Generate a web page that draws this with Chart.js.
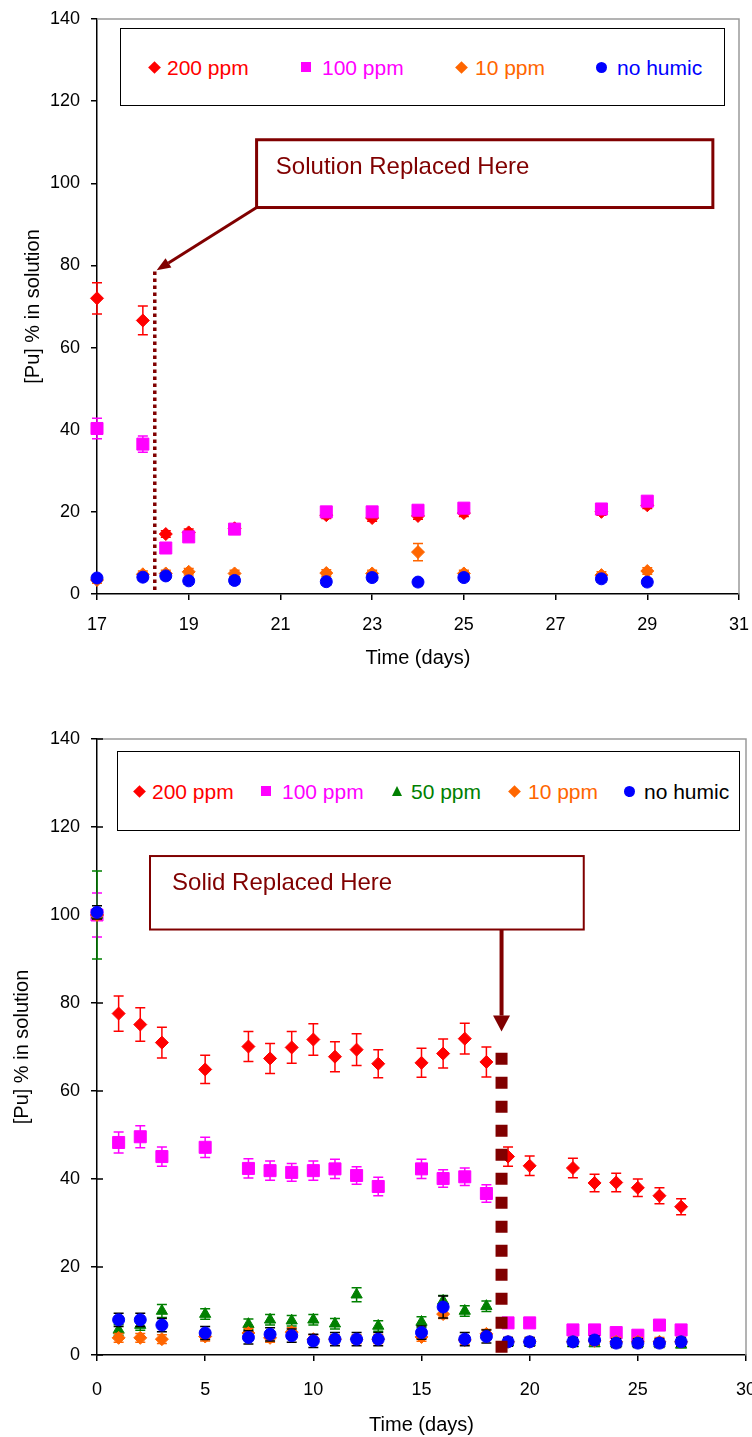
<!DOCTYPE html>
<html>
<head>
<meta charset="utf-8">
<script src="https://cdn.jsdelivr.net/npm/chart.js@4.4.0/dist/chart.umd.min.js"></script>
<style>
  body { margin: 0; background: #fff; width: 752px; height: 1437px; position: relative; overflow: hidden;
         font-family: "Liberation Sans", Arial, sans-serif; }
  .panel { position: absolute; left: 0; width: 752px; overflow: hidden; }
  #top-panel { top: 0; height: 674px; }
  #bottom-panel { top: 720px; height: 717px; }
  .legend { position: absolute; border: 1.5px solid #000; box-sizing: border-box; background: #fff; font-size: 21px; }
  .legend .mk, .legend .txt { position: absolute; top: 50%; }
  .legend .txt { transform: translateY(-50%); white-space: nowrap; line-height: 1; }
  .mk.diamond { width: 9px; height: 9px; margin: -4.5px 0 0 -4.5px; transform: rotate(45deg); }
  .mk.square { width: 10px; height: 10px; margin: -5px 0 0 -5px; }
  .mk.circle { width: 11px; height: 11px; margin: -5.5px 0 0 -5.5px; border-radius: 50%; }
  .mk.triangle { width: 0; height: 0; margin: -5px 0 0 -5.5px; border-left: 5.5px solid transparent;
                 border-right: 5.5px solid transparent; border-bottom: 10px solid #008000; }
</style>
</head>
<body>
<div class="panel" id="top-panel"><canvas id="top-chart" width="752" height="674"></canvas></div>
<div class="panel" id="bottom-panel"><canvas id="bottom-chart" width="764" height="717"></canvas></div>

<div class="legend" style="left:120px; top:28px; width:605px; height:78px;">
  <span class="mk diamond" style="left:33px; background:#ff0000;"></span><span class="txt" style="left:46px; color:#ff0000;">200 ppm</span>
  <span class="mk square" style="left:185px; background:#ff00ff;"></span><span class="txt" style="left:201px; color:#ff00ff;">100 ppm</span>
  <span class="mk diamond" style="left:340px; background:#ff6600;"></span><span class="txt" style="left:354px; color:#ff6600;">10 ppm</span>
  <span class="mk circle" style="left:480px; background:#0000ff;"></span><span class="txt" style="left:496px; color:#0000ff;">no humic</span>
</div>

<div class="legend" style="left:117px; top:751px; width:623px; height:80px;">
  <span class="mk diamond" style="left:21px; background:#ff0000;"></span><span class="txt" style="left:34px; color:#ff0000;">200 ppm</span>
  <span class="mk square" style="left:148px; background:#ff00ff;"></span><span class="txt" style="left:164px; color:#ff00ff;">100 ppm</span>
  <span class="mk triangle" style="left:279px;"></span><span class="txt" style="left:293px; color:#008000;">50 ppm</span>
  <span class="mk diamond" style="left:396px; background:#ff6600;"></span><span class="txt" style="left:410px; color:#ff6600;">10 ppm</span>
  <span class="mk circle" style="left:511px; background:#0000ff;"></span><span class="txt" style="left:526px; color:#000;">no humic</span>
</div>

<script>
// Верхний график: замена раствора
const daysTop = [17, 18, 18.5, 19, 20, 22, 23, 24, 25, 28, 29];
const top200 = [72, 66.6, 14.6, 15, 16, 19.2, 18.5, 19, 19.7, 20, 21.6];
const top200Err = [3.8, 3.5, 0.8, 0.8, 0.8, 0.8, 0.8, 0.8, 0.8, 0.8, 0.8];
const top100 = [40.3, 36.5, 11.2, 13.9, 15.8, 20, 20, 20.4, 20.9, 20.7, 22.6];
const top100Err = [2.5, 2, 0.8, 0.8, 0.8, 0.8, 0.8, 0.8, 0.8, 0.8, 0.8];
const top10 = [3.4, 4.8, 5, 5.4, 5, 5.1, 5, 10.2, 5, 4.6, 5.6];
const top10Err = [0.8, 0.8, 0.8, 0.8, 0.8, 0.8, 0.8, 2.1, 0.8, 0.8, 0.8];
const topNone = [3.9, 4.1, 4.4, 3.2, 3.3, 3.0, 4.0, 2.9, 4.0, 3.7, 2.9];
const topNoneErr = [0.8, 0.8, 0.8, 0.8, 0.8, 0.8, 0.8, 0.8, 0.8, 0.8, 0.8];

// Нижний график: замена твёрдой фазы
const daysBottom = [0, 1, 2, 3, 5, 7, 8, 9, 10, 11, 12, 13, 15, 16, 17, 18, 19, 20, 22, 23, 24, 25, 26, 27];
const bot200 = [100, 77.6, 75.1, 71.0, 64.9, 70.1, 67.4, 69.9, 71.7, 67.8, 69.4, 66.2, 66.4, 68.5, 71.9, 66.6, 45.1, 43.0, 42.5, 39.1, 39.2, 38.0, 36.2, 33.7];
const bot200Err = [0, 4.0, 3.8, 3.5, 3.2, 3.4, 3.4, 3.6, 3.6, 3.4, 3.6, 3.2, 3.3, 3.3, 3.5, 3.4, 2.2, 2.2, 2.2, 2.0, 2.1, 2.0, 1.8, 1.8];
const bot100 = [100, 48.3, 49.6, 45.1, 47.2, 42.4, 41.9, 41.5, 41.9, 42.3, 40.8, 38.3, 42.3, 40.1, 40.5, 36.7, 7.3, 7.3, 5.7, 5.7, 5.1, 4.5, 6.8, 5.7];
const bot100Err = [5, 2.4, 2.5, 2.2, 2.3, 2.2, 2.2, 2.0, 2.2, 2.2, 2.0, 2.1, 2.2, 2.0, 2.0, 2.0, 0.5, 0.5, 0.5, 0.5, 0.5, 0.5, 0.5, 0.5];
const bot50 = [100, 5.7, 6.8, 10.0, 9.3, 7.0, 8.0, 7.8, 8.0, 7.1, 13.7, 6.6, 7.5, 12.3, 10.0, 11.1, 2.8, 2.8, 2.6, 2.6, 2.6, 2.6, 2.6, 2.3];
const bot50Err = [10, 1.2, 1.2, 1.5, 1.2, 1.2, 1.2, 1.2, 1.2, 1.2, 1.6, 1.2, 1.2, 1.2, 1.2, 1.2, 0.5, 0.5, 0.5, 0.5, 0.5, 0.5, 0.5, 0.5];
const bot10 = [100, 3.9, 3.9, 3.6, 4.2, 5.0, 3.9, 5.2, 3.6, 3.6, 3.6, 3.6, 4.1, 9.3, 3.4, 4.8, 3.0, 3.0, 3.0, 3.2, 3.0, 3.0, 3.0, 3.0];
const bot10Err = [1, 1, 1, 1, 1, 1, 1, 1, 1, 1, 1, 1, 1, 1, 1, 1, 1, 1, 1, 1, 1, 1, 1, 1];
const botNone = [100.6, 8.0, 8.0, 6.8, 5.0, 4.0, 4.7, 4.4, 3.2, 3.6, 3.6, 3.6, 5.1, 10.9, 3.6, 4.2, 3.0, 3.0, 3.0, 3.4, 2.7, 2.7, 2.7, 3.0];
const botNoneErr = [1.5, 1.5, 1.5, 1.5, 1.5, 1.5, 1.5, 1.5, 1.5, 1.5, 1.5, 1.5, 1.5, 2.5, 1.5, 1.5, 1, 1, 1, 1, 1, 1, 1, 1];

const yTicks = [0, 20, 40, 60, 80, 100, 120, 140];
const MAROON = '#800000';

Chart.defaults.font.family = '"Liberation Sans", Arial, sans-serif';
Chart.defaults.color = '#000';

const toPoints = (xs, ys) => xs.map((x, i) => ({ x: x, y: ys[i] }));

const series = (label, xs, ys, errs, color, style, radius, order, errColor) => ({
  label: label,
  data: toPoints(xs, ys),
  errors: errs,
  errColor: errColor || color,
  backgroundColor: color,
  borderColor: color,
  borderWidth: 1,
  pointStyle: style,
  pointRadius: radius,
  showLine: false,
  clip: false,
  order: order
});

/**
 * Планки погрешностей, рисуются под маркерами своей серии
 */
const errorBars = {
  id: 'errorBars',
  beforeDatasetDraw(chart, args) {
    const ds = chart.data.datasets[args.index];
    if (!ds.errors) return;
    const yScale = chart.scales.y;
    const ctx = chart.ctx;
    ctx.save();
    ctx.strokeStyle = ds.errColor;
    ctx.lineWidth = 1.5;
    args.meta.data.forEach((pt, i) => {
      const e = ds.errors[i];
      if (!e) return;
      const v = ds.data[i].y;
      const yTop = yScale.getPixelForValue(v + e);
      const yBot = yScale.getPixelForValue(v - e);
      ctx.beginPath();
      ctx.moveTo(pt.x, yTop); ctx.lineTo(pt.x, yBot);
      ctx.moveTo(pt.x - 5, yTop); ctx.lineTo(pt.x + 5, yTop);
      ctx.moveTo(pt.x - 5, yBot); ctx.lineTo(pt.x + 5, yBot);
      ctx.stroke();
    });
    ctx.restore();
  }
};

/**
 * Серая рамка сверху и справа, при необходимости — внутренние засечки оси Y
 */
const plotFrame = {
  id: 'plotFrame',
  beforeDatasetsDraw(chart, args, o) {
    const { ctx, chartArea: a } = chart;
    ctx.save();
    ctx.strokeStyle = '#9a9a9a';
    ctx.lineWidth = 1.5;
    ctx.beginPath();
    ctx.moveTo(a.left, a.top); ctx.lineTo(a.right, a.top); ctx.lineTo(a.right, a.bottom);
    ctx.stroke();
    if (o && o.innerTicks) {
      const yScale = chart.scales.y;
      ctx.strokeStyle = '#000';
      ctx.beginPath();
      yTicks.forEach(v => {
        const py = yScale.getPixelForValue(v);
        ctx.moveTo(a.left, py); ctx.lineTo(a.left + o.innerTicks, py);
      });
      ctx.stroke();
    }
    ctx.restore();
  }
};

const drawArrow = (ctx, x1, y1, x2, y2, width, headLen, headW) => {
  const ang = Math.atan2(y2 - y1, x2 - x1);
  const bx = x2 - headLen * Math.cos(ang);
  const by = y2 - headLen * Math.sin(ang);
  ctx.lineWidth = width;
  ctx.beginPath(); ctx.moveTo(x1, y1); ctx.lineTo(bx, by); ctx.stroke();
  ctx.beginPath();
  ctx.moveTo(x2, y2);
  ctx.lineTo(bx + headW / 2 * Math.sin(ang), by - headW / 2 * Math.cos(ang));
  ctx.lineTo(bx - headW / 2 * Math.sin(ang), by + headW / 2 * Math.cos(ang));
  ctx.closePath(); ctx.fill();
};

/**
 * Пометка о замене: пунктир, рамка с подписью и стрелка (в единицах осей)
 */
const replaceNote = {
  id: 'replaceNote',
  afterDatasetsDraw(chart, args, o) {
    if (!o || !o.text) return;
    const { ctx } = chart;
    const X = v => chart.scales.x.getPixelForValue(v);
    const Y = v => chart.scales.y.getPixelForValue(v);
    ctx.save();
    ctx.strokeStyle = MAROON;
    ctx.fillStyle = MAROON;

    // пунктирная линия
    ctx.setLineDash(o.line.dash);
    ctx.lineWidth = o.line.width;
    ctx.beginPath();
    ctx.moveTo(X(o.line.x), Y(o.line.from));
    ctx.lineTo(X(o.line.x), Y(o.line.to));
    ctx.stroke();
    ctx.setLineDash([]);

    // рамка
    const bx1 = X(o.box.x1), bx2 = X(o.box.x2), by1 = Y(o.box.y1), by2 = Y(o.box.y2);
    ctx.fillStyle = '#fff';
    ctx.fillRect(bx1, by1, bx2 - bx1, by2 - by1);
    ctx.lineWidth = o.box.border;
    ctx.strokeRect(bx1, by1, bx2 - bx1, by2 - by1);

    // подпись
    ctx.fillStyle = MAROON;
    ctx.font = o.fontSize + 'px "Liberation Sans", Arial, sans-serif';
    ctx.textBaseline = 'middle';
    ctx.textAlign = 'left';
    ctx.fillText(o.text, X(o.textAt[0]), Y(o.textAt[1]));

    // стрелка
    drawArrow(ctx, X(o.arrow.from[0]), Y(o.arrow.from[1]), X(o.arrow.to[0]), Y(o.arrow.to[1]),
      o.arrow.width, o.arrow.head, o.arrow.headW);
    ctx.restore();
  }
};

const buildOptions = (p) => ({
  responsive: false,
  animation: false,
  layout: { padding: { top: 19, right: p.padRight, left: 0, bottom: 0 } },
  plugins: {
    legend: { display: false },
    tooltip: { enabled: false },
    plotFrame: { innerTicks: p.innerTicks || 0 },
    replaceNote: p.note
  },
  scales: {
    x: {
      type: 'linear',
      min: p.xMin,
      max: p.xMax,
      ticks: { stepSize: p.xStep, font: { size: 18 }, padding: p.xTickPad, maxRotation: 0, autoSkip: false },
      grid: { drawOnChartArea: false, drawTicks: true, tickLength: 6, color: '#000', lineWidth: 1.5 },
      border: { display: true, color: '#000', width: 1.5 },
      title: { display: true, text: 'Time (days)', font: { size: 20 }, padding: { top: 0, bottom: p.xTitlePad } },
      afterFit: s => { s.height = p.xHeight; s.paddingLeft = 0; s.paddingRight = 0; }
    },
    y: {
      type: 'linear',
      min: 0,
      max: 140,
      afterBuildTicks: s => { s.ticks = yTicks.map(v => ({ value: v })); },
      ticks: { font: { size: 18 }, padding: 11 },
      grid: { drawOnChartArea: false, drawTicks: true, tickLength: 6, color: '#000', lineWidth: 1.5 },
      border: { display: true, color: '#000', width: 1.5 },
      title: { display: true, text: '[Pu] % in solution', font: { size: 20 }, padding: { top: p.yTitlePad, bottom: 0 } },
      afterFit: s => { s.width = 97; s.paddingTop = 0; s.paddingBottom = 0; }
    }
  }
});

document.addEventListener('DOMContentLoaded', () => {
  new Chart(document.getElementById('top-chart'), {
    type: 'scatter',
    data: {
      datasets: [
        series('200 ppm', daysTop, top200, top200Err, '#ff0000', 'rectRot', 6.5, 4),
        series('100 ppm', daysTop, top100, top100Err, '#ff00ff', 'rect', 8.5, 3),
        series('10 ppm', daysTop, top10, top10Err, '#ff6600', 'rectRot', 6.5, 1),
        series('no humic', daysTop, topNone, topNoneErr, '#0000ff', 'circle', 6, 0, '#000')
      ]
    },
    options: buildOptions({
      padRight: 13, xMin: 17, xMax: 31, xStep: 2, xTickPad: 14, xTitlePad: 4, xHeight: 80, yTitlePad: 21,
      note: {
        text: 'Solution Replaced Here',
        fontSize: 24,
        textAt: [20.9, 103.8],
        line: { x: 18.26, from: 78.5, to: 0.8, width: 3.5, dash: [3.5, 3.5] },
        box: { x1: 20.48, x2: 30.43, y1: 110.6, y2: 94.1, border: 3 },
        arrow: { from: [20.48, 94.1], to: [18.3, 78.8], width: 3, head: 14, headW: 11 }
      }
    }),
    plugins: [plotFrame, errorBars, replaceNote]
  });

  new Chart(document.getElementById('bottom-chart'), {
    type: 'scatter',
    data: {
      datasets: [
        series('200 ppm', daysBottom, bot200, bot200Err, '#ff0000', 'rectRot', 6.5, 4),
        series('100 ppm', daysBottom, bot100, bot100Err, '#ff00ff', 'rect', 8.5, 3),
        series('50 ppm', daysBottom, bot50, bot50Err, '#008000', 'triangle', 6.5, 2),
        series('10 ppm', daysBottom, bot10, bot10Err, '#ff6600', 'rectRot', 6.5, 1),
        series('no humic', daysBottom, botNone, botNoneErr, '#0000ff', 'circle', 6, 0, '#000')
      ]
    },
    options: buildOptions({
      padRight: 18, xMin: 0, xMax: 30, xStep: 5, xTickPad: 18, xTitlePad: 0, xHeight: 82, yTitlePad: 10,
      innerTicks: 6,
      note: {
        text: 'Solid Replaced Here',
        fontSize: 24,
        textAt: [3.47, 107.2],
        line: { x: 18.7, from: 68.7, to: 0.45, width: 12, dash: [12, 12] },
        box: { x1: 2.45, x2: 22.5, y1: 113.4, y2: 96.7, border: 2 },
        arrow: { from: [18.7, 96.7], to: [18.7, 73.5], width: 4, head: 16, headW: 17 }
      }
    }),
    plugins: [plotFrame, errorBars, replaceNote]
  });
});
</script>
</body>
</html>
